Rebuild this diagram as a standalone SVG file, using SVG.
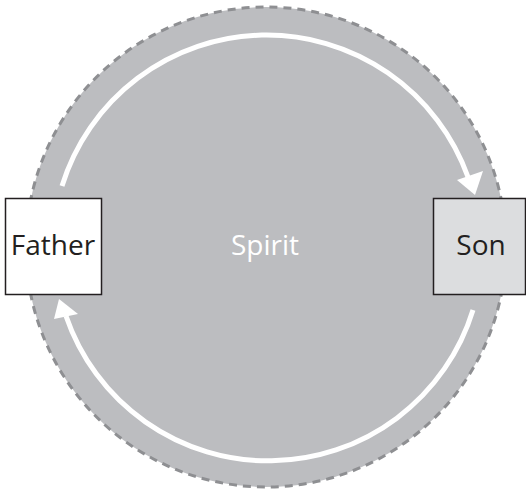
<svg xmlns="http://www.w3.org/2000/svg" width="526" height="491" viewBox="0 0 526 491">
<style>
.box{stroke:#231f20;stroke-width:1.5}
.lbl{font-family:"Open Sans","Liberation Sans",sans-serif;font-size:28px;text-anchor:middle}
.arc{fill:none;stroke:#ffffff;stroke-width:5}
.head{fill:#ffffff}
</style>
<g id="spirit">
<circle cx="266" cy="247" r="240" fill="#bcbdc0" stroke="#8e8f92" stroke-width="3" stroke-dasharray="8 6"/>
<text class="lbl" x="265" y="255" fill="#ffffff">Spirit</text>
</g>
<g id="connectors">
<path class="arc" d="M62,186 A214,214 0 0 1 468,177"/>
<polygon class="head" points="475,195 457,180 483,171"/>
<path class="arc" d="M473,310 A214,214 0 0 1 66,316"/>
<polygon class="head" points="59,299 54,319 78,314"/>
</g>
<g id="father">
<rect class="box" x="5.5" y="198.5" width="96" height="96" fill="#ffffff"/>
<text class="lbl" x="53" y="255" fill="#231f20">Father</text>
</g>
<g id="son">
<rect class="box" x="433.5" y="198.5" width="92" height="96" fill="#dcdddf"/>
<text class="lbl" x="481" y="255" fill="#231f20">Son</text>
</g>
</svg>
